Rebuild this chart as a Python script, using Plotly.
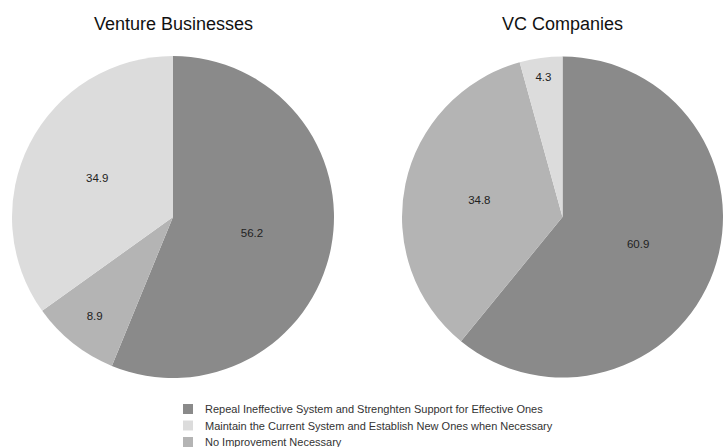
import plotly.graph_objects as go

W, H = 723, 447

# Survey responses (%) per respondent group
categories = [
    "Repeal Ineffective System and Strenghten Support for Effective Ones",
    "No Improvement Necessary",
    "Maintain the Current System and Establish New Ones when Necessary",
]
venture_values = [56.2, 8.9, 34.9]
vc_values = [60.9, 34.8, 4.3]
group_titles = ["Venture Businesses", "VC Companies"]

# Legend order differs from the slice order
legend_order = [0, 2, 1]
colors = ["#8a8a8a", "#b4b4b4", "#dcdcdc"]

FONT = "Liberation Sans, Arial, sans-serif"


def px_x(v):
    return v / W


def px_y(v):
    return 1 - v / H


fig = go.Figure()

pie_domains = [
    dict(x=[px_x(12), px_x(334)], y=[px_y(378), px_y(56)]),
    dict(x=[px_x(402), 1.0], y=[px_y(378), px_y(56)]),
]

for vals, dom in zip([venture_values, vc_values], pie_domains):
    fig.add_trace(go.Pie(
        labels=categories,
        values=vals,
        sort=False,
        direction="clockwise",
        rotation=0,
        domain=dom,
        marker=dict(colors=colors, line=dict(width=0)),
        textinfo="value",
        textposition="inside",
        insidetextorientation="horizontal",
        textfont=dict(family=FONT, size=11.5, color="#222222"),
        showlegend=False,
        hoverinfo="label+value",
    ))

for title, dom in zip(group_titles, pie_domains):
    cx = (dom["x"][0] + dom["x"][1]) / 2
    fig.add_annotation(
        text=title, x=cx, y=px_y(24), xref="paper", yref="paper",
        showarrow=False, xanchor="center", yanchor="middle",
        font=dict(family=FONT, size=18, color="#111111"),
    )

# Compact legend below the pies: square swatch + label per category
LEG_X, LEG_Y0, LEG_DY, SW = 183, 409, 16.5, 10
for row, i in enumerate(legend_order):
    yc = LEG_Y0 + row * LEG_DY
    fig.add_shape(
        type="rect", xref="paper", yref="paper",
        x0=px_x(LEG_X), x1=px_x(LEG_X + SW),
        y0=px_y(yc + SW / 2), y1=px_y(yc - SW / 2),
        fillcolor=colors[i], line=dict(width=0),
    )
    fig.add_annotation(
        text=categories[i], x=px_x(LEG_X + 20), y=px_y(yc),
        xref="paper", yref="paper", showarrow=False,
        xanchor="left", yanchor="middle",
        font=dict(family=FONT, size=11, color="#333333"),
    )

fig.update_layout(
    width=W, height=H,
    margin=dict(l=0, r=0, t=0, b=0),
    paper_bgcolor="white", plot_bgcolor="white",
    showlegend=False,
)

fig.write_html("out.html")
